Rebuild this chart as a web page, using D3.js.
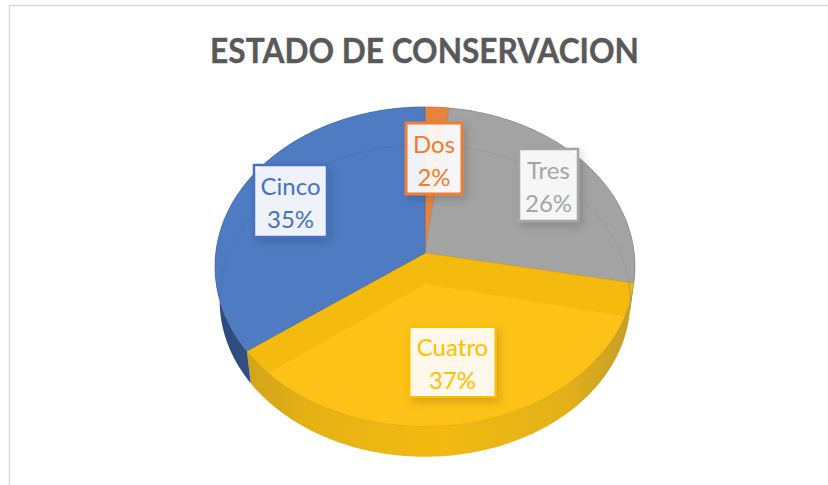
<!DOCTYPE html>
<html>
<head>
<meta charset="utf-8">
<script src="https://cdn.jsdelivr.net/npm/d3@7"></script>
<style>
    html, body {margin: 0; padding: 0; background: #fff;}
    svg {display: block;}
    text {font-family: Lato, "Open Sans", sans-serif;}
</style>
</head>
<body>
<script>
//chart data, starting at 12 o'clock and going clockwise
var categories = ["Dos", "Tres", "Cuatro", "Cinco"];
var values = [2, 26, 37, 35];
var percentLabels = ["2%", "26%", "37%", "35%"];

//colours per slice
var topColors = ["#e9843f", "#a3a3a3", "#f4ba0e", "#4f7bc3"];
var innerColors = ["#e9843f", "#a3a3a3", "#fdc217", "#4f7bc3"];
var ringColors = ["#e9843f", "#999999", "#fdc217", "#4874bb"];
var textColors = ["#ed7d31", "#a5a5a5", "#ffc000", "#4472c4"];

//label box centres and sizes
var labelBoxes = [
    {cx: 434, cy: 158.5, w: 56, h: 71, border: 3},
    {cx: 548.5, cy: 185, w: 59, h: 72, border: 2.5},
    {cx: 452.5, cy: 362, w: 86, h: 70, border: 2},
    {cx: 290.5, cy: 201, w: 73, h: 72, border: 2.5}
];

var width = 828,
    height = 485,
    apexX = 425,
    apexY = 253,
    radiusX = 209.2,   //perspective pie: back of the disc is squeezed
    radiusY = 158.4,
    tilt = 0.0846,
    depth = 34.5,
    bevelApex = 31,
    lowerScale = 0.978;

var svg = d3.select("body")
    .append("svg")
    .attr("width", width)
    .attr("height", height);

var defs = svg.append("defs");

//soft shadow under the label boxes
var shadow = defs.append("filter")
    .attr("id", "boxShadow")
    .attr("x", "-30%").attr("y", "-30%")
    .attr("width", "170%").attr("height", "170%");
shadow.append("feDropShadow")
    .attr("dx", 3).attr("dy", 4)
    .attr("stdDeviation", 4)
    .attr("flood-color", "#000")
    .attr("flood-opacity", 0.17);

//side wall shading per slice
var sideStops = [
    [["0%", "#b9672a"], ["100%", "#b9672a"]],
    [["0%", "#5a5a5a"], ["100%", "#5a5a5a"]],
    [["0%", "#d2a31c"], ["18%", "#e6b214"], ["50%", "#f2ba12"], ["82%", "#e3b118"], ["100%", "#c79d26"]],
    [["0%", "#2d4a7c"], ["100%", "#46699f"]]
];
sideStops.forEach(function(stops, i){
    var grad = defs.append("linearGradient")
        .attr("id", "side" + i);
    stops.forEach(function(s){
        grad.append("stop").attr("offset", s[0]).attr("stop-color", s[1]);
    });
});

//frame of the chart area, only left and top fall in the picture
svg.append("path")
    .attr("d", d3.line()([[9.5, height], [9.5, 5.5], [width, 5.5]]))
    .attr("fill", "none")
    .attr("stroke", "#d9d9d9")
    .attr("stroke-width", 1.5);

//title is Calibri-like, so a tall bold face squeezed to the same width
svg.append("text")
    .attr("transform", "translate(424.5,63) scale(0.904,1)")
    .attr("text-anchor", "middle")
    .attr("font-size", 35)
    .attr("font-weight", 700)
    .attr("fill", "#595959")
    .attr("stroke", "#595959")
    .attr("stroke-width", 0.4)
    .text("ESTADO DE CONSERVACION");

//project an angle on the disc to the page
function topPoint(a){
    var w = 1 + tilt * Math.cos(a);
    return [apexX + radiusX * Math.sin(a) / w, apexY - radiusY * Math.cos(a) / w];
}
function lowerPoint(a){
    var p = topPoint(a);
    return [apexX + (p[0] - apexX) * lowerScale, apexY + depth + (p[1] - apexY) * lowerScale];
}
function sampleAngles(d){
    var n = Math.max(4, Math.ceil((d.endAngle - d.startAngle) * 60));
    return d3.range(n + 1).map(function(i){
        return d.startAngle + (d.endAngle - d.startAngle) * i / n;
    });
}

var line = d3.line();

var slices = d3.pie().sort(null)(values);

function wedge(d, project, apex){
    return line([apex].concat(sampleAngles(d).map(project))) + "Z";
}

//disc outline used to clip the inner faces
defs.append("clipPath")
    .attr("id", "discClip")
    .append("path")
    .attr("d", line(sampleAngles({startAngle: 0, endAngle: 2 * Math.PI}).map(topPoint)) + "Z");

//side walls first, the top face hides the back of them
svg.selectAll(".side")
    .data(slices)
    .enter()
    .append("path")
    .attr("class", "side")
    .attr("d", function(d){
        var angles = sampleAngles(d);
        return line(angles.map(topPoint).concat(angles.slice().reverse().map(lowerPoint))) + "Z";
    })
    .attr("fill", function(d, i){ return "url(#side" + i + ")"; });

//top faces
svg.selectAll(".slice")
    .data(slices)
    .enter()
    .append("path")
    .attr("class", "slice")
    .attr("d", function(d){ return wedge(d, topPoint, [apexX, apexY]); })
    .attr("fill", function(d, i){ return topColors[i]; })
    .attr("stroke", function(d, i){ return d3.color(topColors[i]).darker(0.35); })
    .attr("stroke-width", 0.7);

//inner face of the bevel
var inner = svg.append("g").attr("clip-path", "url(#discClip)");

inner.selectAll(".innerSlice")
    .data(slices)
    .enter()
    .append("path")
    .attr("class", "innerSlice")
    .attr("d", function(d){ return wedge(d, lowerPoint, [apexX, apexY + bevelApex]); })
    .attr("fill", function(d, i){ return innerColors[i]; })
    .attr("fill-opacity", function(d, i){ return i == 2 ? 1 : 0; });

inner.selectAll(".ring")
    .data(slices)
    .enter()
    .append("path")
    .attr("class", "ring")
    .attr("d", function(d){ return line(sampleAngles(d).map(lowerPoint)); })
    .attr("fill", "none")
    .attr("stroke", function(d, i){ return ringColors[i]; })
    .attr("stroke-width", 1);

//data labels
var labels = svg.selectAll(".label")
    .data(labelBoxes)
    .enter()
    .append("g")
    .attr("class", "label")
    .attr("transform", function(d){ return "translate(" + d.cx + "," + d.cy + ")"; });

labels.append("rect")
    .attr("x", function(d){ return -d.w / 2; })
    .attr("y", function(d){ return -d.h / 2; })
    .attr("width", function(d){ return d.w; })
    .attr("height", function(d){ return d.h; })
    .attr("fill", "#fff")
    .attr("fill-opacity", 0.9)
    .attr("stroke", function(d, i){ return textColors[i]; })
    .attr("stroke-width", function(d){ return d.border; })
    .attr("filter", "url(#boxShadow)");

labels.append("text")
    .attr("text-anchor", "middle")
    .attr("y", -6)
    .attr("font-size", 24)
    .attr("fill", function(d, i){ return textColors[i]; })
    .text(function(d, i){ return categories[i]; });

labels.append("text")
    .attr("text-anchor", "middle")
    .attr("y", 27)
    .attr("font-size", 24)
    .attr("fill", function(d, i){ return textColors[i]; })
    .text(function(d, i){ return percentLabels[i]; });
</script>
</body>
</html>
